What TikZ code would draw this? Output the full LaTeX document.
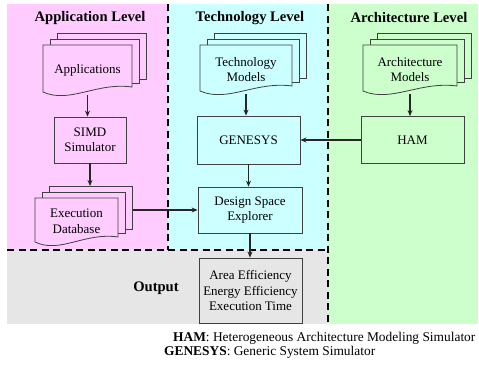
\documentclass[tikz,border=0pt]{standalone}
\usepackage{fontspec}
\setmainfont{Liberation Serif}
\usetikzlibrary{arrows.meta,calc}
\definecolor{pinkbg}{HTML}{FFCCFF}
\definecolor{cyanbg}{HTML}{CCFFFF}
\definecolor{greenbg}{HTML}{CCFFCC}
\definecolor{graybg}{HTML}{E6E6E6}
\definecolor{boxc}{HTML}{404040}
\newcommand\txtfnt{\fontsize{13}{15.5}\selectfont}
\newcommand\ttlfnt{\fontsize{14.6}{17}\selectfont\bfseries}
\newcommand\lgdfnt{\fontsize{13.4}{15}\selectfont}
\tikzset{
  box/.style={draw=boxc, line width=0.8pt, align=center, font=\txtfnt, inner sep=0pt},
  backdoc/.style={draw=boxc, line width=0.8pt, inner sep=0pt, anchor=north west},
  doctext/.style={align=center, font=\txtfnt, inner sep=0pt},
  docline/.style={draw=boxc, line width=0.8pt},
  arr/.style={-{Stealth[length=6pt,width=5pt]}, line width=1.1pt, draw=black!85},
  sepline/.style={line width=2.2pt, dash pattern=on 7pt off 4.5pt},
  ttl/.style={font=\ttlfnt, inner sep=0pt},
}
% #1 name, #2 x0, #3 y0, #4 x1, #5 yL, #6 fill, #7 text
\newcommand\mdoc[7]{%
  \node[backdoc, fill=#6, minimum width={#4-#2}, minimum height={#5-#3-1}] (#1b3) at (#2+14,#3-12) {};
  \node[backdoc, fill=#6, minimum width={#4-#2}, minimum height={#5-#3-3}] (#1b2) at (#2+7,#3-6) {};
  \draw[docline, fill=#6] (#2,#3) -- (#4,#3) -- (#4,#5-5)
    .. controls ({#2+0.6*(#4-#2)},#5-10) and ({#2+0.3*(#4-#2)},#5+12) .. (#2,#5) -- cycle;
  \node[doctext, minimum width={#4-#2}, minimum height={#5+3-#3}] (#1) at ({(#2+#4)/2},{(#3+#5+3)/2}) {#7};
}
\begin{document}
\begin{tikzpicture}[x=1pt,y=-1pt]
\useasboundingbox (0,0) rectangle (479,367);
\fill[white] (0,0) rectangle (479,367);
% backgrounds
\fill[pinkbg] (7,4) rectangle (168,250);
\fill[cyanbg] (168,4) rectangle (328,250);
\fill[graybg] (7,250) rectangle (328,324);
\fill[greenbg] (328,4) rectangle (478,324);
% separators
\draw[sepline] (168,4) -- (168,250);
\draw[sepline] (7,250) -- (328,250);
\draw[sepline] (328,4) -- (328,324);
% titles
\node[ttl] (tapp) at (90,18) {Application Level};
\node[ttl] (ttech) at (250,18) {Technology Level};
\node[ttl] (tarch) at (409,18) {Architecture Level};
\node[ttl] (tout) at (156,288) {Output};
% documents
\mdoc{app}{43}{45}{132}{92}{pinkbg}{Applications}
\mdoc{exec}{35}{198}{118}{242}{pinkbg}{Execution\\Database}
\mdoc{tech}{200}{45}{292}{91}{cyanbg}{Technology\\Models}
\mdoc{arch}{363}{45}{457}{91}{greenbg}{Architecture\\Models}
% boxes
\node[box, fill=pinkbg, minimum width=72, minimum height=46] (simd) at (90,140) {SIMD\\Simulator};
\node[box, fill=cyanbg, minimum width=103, minimum height=48] (gen) at (248.5,140) {GENESYS};
\node[box, fill=greenbg, minimum width=103, minimum height=47] (ham) at (412.5,140) {HAM};
\node[box, fill=cyanbg, minimum width=104, minimum height=46] (dse) at (250,210) {Design Space\\Explorer};
\node[box, fill=graybg, minimum width=103, minimum height=65] (out) at (250.5,290.5) {Area Efficiency\\Energy Efficiency\\Execution Time};
% connectors
\draw[arr] (app.south) -- (app.south |- simd.north);
\draw[arr] (simd.south) -- (simd.south |- execb3.north);
\draw[arr] (dse.west -| execb3.east) -- (dse.west);
\draw[arr] (tech.south) -- (tech.south |- gen.north);
\draw[arr] (gen.south) -- (gen.south |- dse.north);
\draw[arr] (dse.south) -- (dse.south |- out.north);
\draw[arr] (arch.south) -- (arch.south |- ham.north);
\draw[arr] (ham.west) -- (gen.east);
% legend
\node[anchor=west, font=\lgdfnt, inner sep=0pt] (l1) at (173,338) {\textbf{HAM}: Heterogeneous Architecture Modeling Simulator};
\node[anchor=west, font=\lgdfnt, inner sep=0pt] (l2) at (164,352) {\textbf{GENESYS}: Generic System Simulator};
\end{tikzpicture}
\end{document}
